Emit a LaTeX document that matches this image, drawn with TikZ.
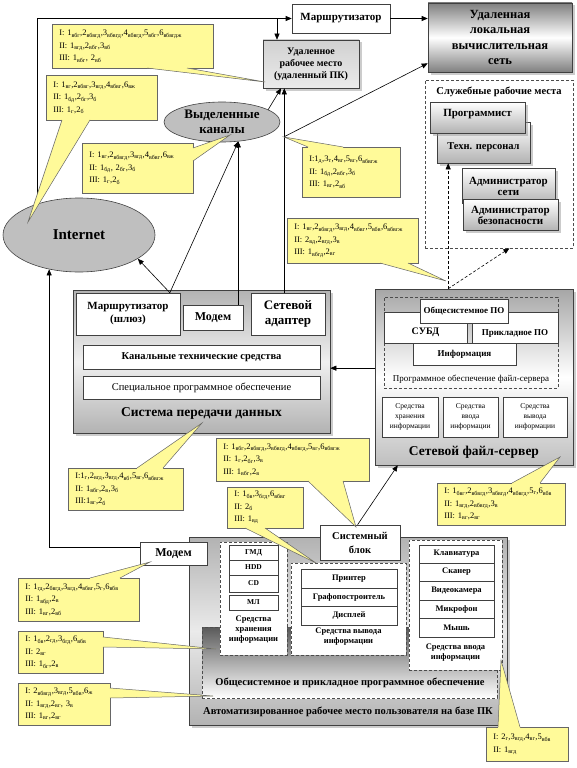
\documentclass[tikz,border=0pt]{standalone}
\usepackage{fontspec}
\setmainfont{Liberation Serif}
\usetikzlibrary{shapes.geometric,arrows.meta,calc,shadows}
\newcommand\sbx[1]{\textsubscript{#1}}
\newcommand\fsz[2]{\fontsize{#1}{#2}\selectfont}
\newcommand\ptr[4]{\fill[cfill] #1 -- #3 -- #2 -- ($#2+#4$) -- ($#1+#4$) -- cycle; \draw[cline] #1 -- #3 -- #2;}
\begin{document}
\begin{tikzpicture}[x=1pt,y=-1pt,
  bx/.style={draw=black!75, fill=white, line width=0.6pt, align=center, inner sep=1pt, font=\bfseries},
  shd/.style={drop shadow={shadow xshift=2.5pt, shadow yshift=-2.5pt, fill=black!40}},
  dbox/.style={draw=black!70, dashed, dash pattern=on 3pt off 2pt, line width=0.6pt, fill=white, inner sep=0pt},
  ell/.style={ellipse, draw=black!75, fill=black!25, line width=0.6pt, inner sep=0pt, align=center},
  cbox/.style={draw=black!60, fill=yellow!40, line width=0.5pt, anchor=north west, align=left, inner xsep=7pt, inner ysep=2pt, font=\fsz{8.5}{12.5}},
  cfill/.style={fill=yellow!40},
  cline/.style={draw=black!60, line width=0.5pt},
  arr/.style={-{Triangle[length=6pt,width=5pt]}, line width=0.6pt},
  darr/.style={arr, dashed, dash pattern=on 3pt off 2pt},
  lbl/.style={align=center, inner sep=0pt},
  grb/.style={bx, top color=white, bottom color=black!30}
]
\useasboundingbox (0,0) rectangle (577,768);

% ---------- top area ----------
\node[bx, minimum width=98pt, minimum height=29pt, font=\bfseries\fsz{11}{13}] (rtr) at (341,18.5) {Маршрутизатор};
\node[bx, shd, top color=black!50, bottom color=black!50, middle color=white, minimum width=144pt, minimum height=69pt, font=\bfseries\fsz{12.5}{15.5}] (lan) at (500,37.5) {Удаленная\\локальная\\вычислительная\\сеть};
\node[bx, shd, top color=black!18, bottom color=black!8, minimum width=96pt, minimum height=48pt, font=\bfseries\fsz{10}{12}] (rpc) at (311,64) {Удаленное\\рабочее место\\(удаленный ПК)};
\node[ell, minimum width=116pt, minimum height=40pt, font=\bfseries\fsz{13}{15}] (ded) at (222,122) {Выделенные\\каналы};
\node[ell, minimum width=152pt, minimum height=74pt, font=\bfseries\fsz{15}{17}] (inet) at (79,235) {Internet};

% ---------- staff ----------
\node[dbox, minimum width=148pt, minimum height=168pt] (staff) at (499,164) {};
\node[lbl, font=\bfseries\fsz{10.5}{12}] (stafft) at (499,92) {Служебные рабочие места};
\node[grb, shd, minimum width=93pt, minimum height=41pt, text height=17pt, font=\bfseries\fsz{10.5}{12}] (tech) at (483.5,142.5) {Техн. персонал};
\node[grb, shd, minimum width=95pt, minimum height=31pt, text depth=10pt, font=\bfseries\fsz{11}{12}] (prog) at (477.5,117.5) {Программист};
\node[grb, shd, minimum width=93pt, minimum height=35pt, font=\bfseries\fsz{11}{11}] (admnet) at (508.5,186) {Администратор\\сети};
\node[grb, shd, minimum width=95pt, minimum height=31pt, font=\bfseries\fsz{11}{11}] (admsec) at (510.5,215) {Администратор\\безопасности};

% ---------- data transmission system ----------
\node[bx, shd, top color=black!30, bottom color=black!30, middle color=black!6, minimum width=257pt, minimum height=143pt] (ds) at (201.5,361.5) {};
\node[bx, minimum width=104pt, minimum height=42pt, font=\bfseries\fsz{11}{13}] (gw) at (128,314) {Маршрутизатор\\(шлюз)};
\node[bx, minimum width=60pt, minimum height=25pt, font=\bfseries\fsz{12}{13}] (mdm) at (213,317.5) {Модем};
\node[bx, minimum width=74pt, minimum height=42pt, font=\bfseries\fsz{13}{15}] (adp) at (288,314) {Сетевой\\адаптер};
\node[bx, minimum width=237pt, minimum height=24pt, font=\bfseries\fsz{10.5}{12}] (kts) at (201.5,357) {Канальные технические средства};
\node[bx, minimum width=237pt, minimum height=23pt, font=\fsz{10.5}{12}] (spo) at (201.5,387.5) {Специальное программное обеспечение};
\node[lbl, font=\bfseries\fsz{13.5}{15}] (dst) at (201.5,413) {Система передачи данных};

% ---------- file server ----------
\node[bx, shd, top color=black!35, bottom color=black!25, middle color=white, minimum width=198pt, minimum height=176pt] (fs) at (474,377) {};
\node[dbox, fill=none, minimum width=174pt, minimum height=91pt] (fsd) at (471,342.5) {};
\node[bx, minimum width=83pt, minimum height=31pt, text height=17pt, font=\bfseries\fsz{10}{12}] (subd) at (425.5,327.5) {СУБД};
\node[bx, minimum width=86pt, minimum height=31pt, text height=17pt, font=\bfseries\fsz{9}{12}] (ppo) at (515,327.5) {Прикладное ПО};
\node[bx, minimum width=88pt, minimum height=24pt, font=\bfseries\fsz{9}{12}] (osp) at (464,311) {Общесистемное ПО};
\node[bx, minimum width=103pt, minimum height=22pt, font=\bfseries\fsz{9}{12}] (info) at (464.5,354) {Информация};
\node[lbl, font=\fsz{9}{11}] (fspo) at (471,379) {Программное обеспечение файл-сервера};
\node[bx, minimum width=56pt, minimum height=40pt, font=\fsz{7.5}{10}] (fsb1) at (410,417) {Средства\\хранения\\информации};
\node[bx, minimum width=55pt, minimum height=40pt, font=\fsz{7.5}{10}] (fsb2) at (470.5,417) {Средства\\ввода\\информации};
\node[bx, minimum width=64pt, minimum height=40pt, font=\fsz{7.5}{10}] (fsb3) at (535,417) {Средства\\вывода\\информации};
\node[lbl, font=\bfseries\fsz{13.5}{15}] (fst) at (474,452) {Сетевой файл-сервер};

% ---------- workstation ----------
\node[bx, shd, top color=black!30, bottom color=black!30, middle color=black!8, minimum width=318pt, minimum height=188pt] (arm) at (348,631) {};
\node[dbox, top color=black!65, bottom color=white, minimum width=295pt, minimum height=71pt] (ospo) at (349.5,662.5) {};
\node[dbox, minimum width=67pt, minimum height=113pt] (stor) at (253.5,598.5) {};
\node[dbox, minimum width=115pt, minimum height=92pt] (outd) at (348.5,609) {};
\node[dbox, minimum width=93pt, minimum height=130pt] (ind) at (455.5,605) {};
\node[bx, minimum width=49pt, minimum height=15pt, font=\bfseries\fsz{7.5}{9}] (gmd) at (253.5,552.5) {ГМД};
\node[bx, minimum width=49pt, minimum height=15pt, font=\bfseries\fsz{7.5}{9}] (hdd) at (253.5,567.5) {HDD};
\node[bx, minimum width=49pt, minimum height=17pt, font=\bfseries\fsz{7.5}{9}] (cd) at (253.5,583.5) {CD};
\node[bx, minimum width=49pt, minimum height=15pt, font=\bfseries\fsz{7.5}{9}] (ml) at (253.5,602.5) {МЛ};
\node[lbl, font=\bfseries\fsz{8.5}{10}] (stort) at (253.5,630) {Средства\\хранения\\информации};
\node[bx, minimum width=96pt, minimum height=19pt, font=\bfseries\fsz{8.5}{10}] (prn) at (349,578.5) {Принтер};
\node[bx, minimum width=96pt, minimum height=18pt, font=\bfseries\fsz{8.5}{10}] (plt) at (349,597) {Графопостроитель};
\node[bx, minimum width=96pt, minimum height=19pt, font=\bfseries\fsz{8.5}{10}] (dsp) at (349,615.5) {Дисплей};
\node[lbl, font=\bfseries\fsz{8.5}{10}] (outt) at (348.5,637) {Средства вывода\\информации};
\node[bx, minimum width=75pt, minimum height=18pt, font=\bfseries\fsz{8.5}{10}] (kb) at (456.5,554) {Клавиатура};
\node[bx, minimum width=75pt, minimum height=18pt, font=\bfseries\fsz{8.5}{10}] (scn) at (456.5,572) {Сканер};
\node[bx, minimum width=75pt, minimum height=19pt, font=\bfseries\fsz{8.5}{10}] (cam) at (456.5,590.5) {Видеокамера};
\node[bx, minimum width=75pt, minimum height=18pt, font=\bfseries\fsz{8.5}{10}] (mic) at (456.5,609) {Микрофон};
\node[bx, minimum width=75pt, minimum height=19pt, font=\bfseries\fsz{8.5}{10}] (mse) at (456.5,627.5) {Мышь};
\node[lbl, font=\bfseries\fsz{8.5}{10}] (int) at (455.5,652.5) {Средства ввода\\информации};
\node[lbl, font=\bfseries\fsz{10.5}{12}] (ospot) at (350,683) {Общесистемное и прикладное программное обеспечение};
\node[lbl, font=\bfseries\fsz{10.5}{12}] (armt) at (348,712) {Автоматизированное рабочее место пользователя на базе ПК};
\node[bx, minimum width=67pt, minimum height=23pt, font=\bfseries\fsz{12}{13}] (mdm2) at (173.5,553.5) {Модем};
\node[bx, minimum width=80pt, minimum height=35pt, font=\bfseries\fsz{10.5}{14}] (sb) at (360,542.5) {Системный\\блок};

% ---------- connectors ----------
\draw[arr] (inet.143.6) |- (rtr.west);
\coordinate (brk) at (277,18.5);
\draw[arr] (brk) -- (brk |- rpc.north);
\draw[arr] (rtr.east) -- (rtr.east -| lan.west);
\draw[arr] (ded.15) -- ($(rpc.south west)!0.19!(rpc.south east)$);
\path ($(adp.north west)!0.45!(adp.north east)$) coordinate (adpt);
\draw[arr] (adpt) -- (adpt |- rpc.south);
\path (adpt) ++(0,-156) coordinate (j1);
\draw[arr] (j1) -- ($(lan.south west)+(0,-9)$);
\draw[arr] (ded.-50 |- mdm.north) -- (ded.-50);
\path ($(gw.north west)!0.9!(gw.north east)$) coordinate (gwt);
\draw[arr] (gwt) -- (ded.-50);
\draw[arr] (gwt) -- (inet.-22);
\path ($(fs.north west)!0.45!(fs.south west)$) coordinate (fsw);
\draw[arr] (fsw) -- (fsw -| ds.east);
\path ($(fs.north west)!0.37!(fs.north east)$) coordinate (fstop);
\draw[darr] (fstop) -- (fstop |- tech.south);
\draw[darr] (fstop) -- ($(staff.south west)!0.57!(staff.south east)$);
\draw[arr] ($(sb.north west)!0.47!(sb.north east)$) -- ($(fs.south west)!0.116!(fs.south east)$);
\path ($(mdm2.north west)!0.22!(mdm2.south west)$) coordinate (m2w);
\draw[arr] (m2w) -| (inet.-131.4);

% ---------- callouts ----------
\node[cbox, text width=147pt, minimum height=44pt] (c1) at (52,24) {I: 1\sbx{вбг},2\sbx{вбвгд},3\sbx{вбвгд},4\sbx{вбвгд},5\sbx{вбг},6\sbx{вбвгдж}\\II: 1\sbx{вгд},2\sbx{вбг},3\sbx{вб}\\III: 1\sbx{вбг}, 2\sbx{вб}};
\ptr{(147,68)}{(187,68)}{(265,82)}{(0,-1.5)}
\node[cbox, text width=97pt, minimum height=45pt] (c2) at (46,75) {I: 1\sbx{вг},2\sbx{вбвг},3\sbx{вгд},4\sbx{вбвг},6\sbx{вж}\\II: 1\sbx{бд},2\sbx{бг},3\sbx{б}\\III: 1\sbx{г},2\sbx{б}};
\ptr{(62,120)}{(90,120)}{(28,222)}{(0,-1.5)}
\node[cbox, text width=97pt, minimum height=50pt] (c3) at (82,143) {I: 1\sbx{вг},2\sbx{вбвгд},3\sbx{вгд},4\sbx{вбвг},6\sbx{вж}\\II: 1\sbx{бд}, 2\sbx{бг},3\sbx{б}\\III: 1\sbx{г},2\sbx{б}};
\ptr{(193,148)}{(193,161)}{(230,135)}{(-1.5,0)}
\node[cbox, text width=84pt, minimum height=50pt] (c4) at (302,147) {I:1\sbx{д},3\sbx{т},4\sbx{вг},5\sbx{вг},6\sbx{вбвгж}\\II: 1\sbx{бд},2\sbx{вбг},3\sbx{б}\\III: 1\sbx{вг},2\sbx{вб}};
\ptr{(308,147)}{(343,147)}{(284,137)}{(0,1.5)}
\node[cbox, text width=117pt, minimum height=45pt] (c5) at (287,218) {I: 1\sbx{вг},2\sbx{вбвгд},3\sbx{вгд},4\sbx{вбвг},5\sbx{вбв},6\sbx{вбвгж}\\II: 2\sbx{вд},2\sbx{вгд},3\sbx{в}\\III: 1\sbx{вбгд},2\sbx{вг}};
\ptr{(380,263)}{(408,263)}{(446,281)}{(0,-1.5)}
\node[cbox, text width=101pt, minimum height=42pt] (c6) at (68,468) {I:1\sbx{г},2\sbx{вгд},3\sbx{вгд},4\sbx{вб},5\sbx{вг},6\sbx{вбвгж}\\II: 1\sbx{вбг},2\sbx{в},3\sbx{б}\\III:1\sbx{вг},2\sbx{б}};
\ptr{(137,468)}{(163,468)}{(202,423)}{(0,1.5)}
\node[cbox, text width=139pt, minimum height=43pt] (c7) at (216,438) {I: 1\sbx{вбг},2\sbx{вбвгд},3\sbx{вбвгд},4\sbx{вбвгд},5\sbx{вг},6\sbx{вбвгж}\\II: 1\sbx{г},2\sbx{бг},3\sbx{в}\\III: 1\sbx{вбг},2\sbx{в}};
\ptr{(308,481)}{(343,481)}{(356,527)}{(0,-1.5)}
\node[cbox, text width=62pt, minimum height=41pt] (c8) at (227,487) {I: 1\sbx{бв},3\sbx{бгд},6\sbx{вбвг}\\II: 2\sbx{б}\\III: 1\sbx{вд}};
\ptr{(245,528)}{(265,528)}{(316,563)}{(0,-1.5)}
\node[cbox, text width=114pt, minimum height=42pt] (c9) at (437,483) {I: 1\sbx{бвг},2\sbx{вбвгд},3\sbx{вбвгд},4\sbx{вбвгд},5\sbx{г},6\sbx{вбв}\\II: 1\sbx{вгд},2\sbx{вбвгд},3\sbx{в}\\III: 1\sbx{вг},2\sbx{вг}};
\ptr{(512,483)}{(540,483)}{(560,457)}{(0,1.5)}
\node[cbox, text width=107pt, minimum height=43pt] (c10) at (18,578) {I: 1\sbx{гд},2\sbx{бвгд},3\sbx{вгд},4\sbx{вбвг},5\sbx{г},6\sbx{вбв}\\II: 1\sbx{вбд},2\sbx{в}\\III: 1\sbx{вг},2\sbx{вб}};
\ptr{(90,578)}{(120,578)}{(150,562)}{(0,1.5)}
\node[cbox, text width=71pt, minimum height=42pt] (c11) at (18,631) {I: 1\sbx{бв},2\sbx{гд},3\sbx{бгд},6\sbx{вбв}\\II: 2\sbx{вг}\\III: 1\sbx{бг},2\sbx{в}};
\ptr{(103,637)}{(103,647)}{(216,649)}{(-1.5,0)}
\node[cbox, text width=78pt, minimum height=42pt] (c12) at (18,683) {I: 2\sbx{вбвгд},3\sbx{вгд},5\sbx{вбв},6\sbx{ж}\\II: 1\sbx{вгд},2\sbx{вг}, 3\sbx{в}\\III: 1\sbx{вг},2\sbx{вг}};
\ptr{(110,688)}{(110,698)}{(213,696)}{(-1.5,0)}
\node[cbox, text width=68pt, minimum height=34pt] (c13) at (486,727) {I: 2\sbx{г},3\sbx{вгд},4\sbx{вг},5\sbx{вбв}\\II: 1\sbx{вгд}};
\ptr{(498,727)}{(520,727)}{(501,660)}{(0,1.5)}
\end{tikzpicture}
\end{document}
